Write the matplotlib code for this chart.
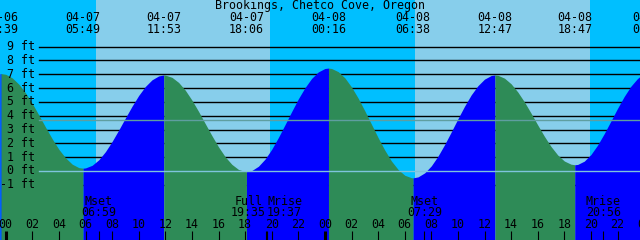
import matplotlib
matplotlib.use("Agg")
import matplotlib.pyplot as plt
import matplotlib.transforms as mtransforms
import numpy as np

title = "Brookings, Chetco Cove, Oregon"

# hours counted from 04-07 00:00
x_range = [-0.43, 47.69]
y_range = [-5.0, 12.38]

# tide height curve (hours, feet)
curve_hours = [-0.43, -0.35, 0, 0.5, 1, 1.5, 2, 2.5, 3, 3.5, 4, 4.5, 5, 5.5, 5.817,
               6, 6.5, 7, 7.5, 8, 8.5, 9, 9.5, 10, 10.5, 11, 11.5, 11.883,
               12, 12.5, 13, 13.5, 14, 14.5, 15, 15.5, 16, 16.5, 17, 17.5, 18, 18.1,
               18.5, 19, 19.5, 20, 20.5, 21, 21.5, 22, 22.5, 23, 23.5, 24, 24.267,
               24.5, 25, 25.5, 26, 26.5, 27, 27.5, 28, 28.5, 29, 29.5, 30, 30.5, 30.633,
               31, 31.5, 32, 32.5, 33, 33.5, 34, 34.5, 35, 35.5, 36, 36.5, 36.783,
               37, 37.5, 38, 38.5, 39, 39.5, 40, 40.5, 41, 41.5, 42, 42.5, 42.783,
               43, 43.5, 44, 44.5, 45, 45.5, 46, 46.5, 47, 47.5, 47.69]
curve_feet = [7.04, 7.05, 7.00, 6.73, 6.27, 5.64, 4.88, 4.03, 3.16, 2.32, 1.56, 0.95, 0.49, 0.24, 0.20,
              0.22, 0.41, 0.81, 1.40, 2.14, 2.97, 3.84, 4.69, 5.47, 6.12, 6.60, 6.88, 6.95,
              6.94, 6.78, 6.41, 5.85, 5.13, 4.31, 3.43, 2.56, 1.74, 1.03, 0.48, 0.11, -0.04, -0.05,
              0.03, 0.34, 0.86, 1.57, 2.42, 3.35, 4.30, 5.22, 6.03, 6.70, 7.17, 7.42, 7.45,
              7.42, 7.19, 6.74, 6.08, 5.27, 4.35, 3.38, 2.41, 1.51, 0.72, 0.11, -0.31, -0.49, -0.50,
              -0.43, -0.14, 0.37, 1.07, 1.91, 2.83, 3.78, 4.69, 5.51, 6.17, 6.65, 6.91, 6.95,
              6.93, 6.72, 6.31, 5.72, 5.00, 4.18, 3.33, 2.51, 1.77, 1.16, 0.72, 0.49, 0.45,
              0.47, 0.71, 1.19, 1.87, 2.70, 3.61, 4.53, 5.39, 6.13, 6.69, 6.84]

# high / low tide events
tide_hours = [-0.35, 5.817, 11.883, 18.1, 24.267, 30.633, 36.783, 42.783, 48.4]
tide_dates = ["04-06", "04-07", "04-07", "04-07", "04-08", "04-08", "04-08", "04-08", "04-09"]
tide_times = ["23:39", "05:49", "11:53", "18:06", "00:16", "06:38", "12:47", "18:47", "00:24"]

# daylight periods (sunrise, sunset)
day_start = [6.79, 30.77]
day_end = [19.87, 43.93]

# moon events
moon_hours = [6.983, 19.583, 19.617, 31.483, 44.933]
moon_names = ["Mset", "Full", "Mrise", "Mset", "Mrise"]
moon_times = ["06:59", "19:35", "19:37", "07:29", "20:56"]

# axis
ft_levels = [9, 8, 7, 6, 5, 4, 3, 2, 1, 0, -1]
ft_labels = ["9 ft", "8 ft", "7 ft", "6 ft", "5 ft", "4 ft", "3 ft", "2 ft", "1 ft", "0 ft", "-1 ft"]
hour_ticks = list(range(0, 49, 2))
hour_labels = ["%02d" % (h % 24) for h in hour_ticks]
mean_level = 3.69

NIGHT = "#00BFFF"
DAY = "#87CEEB"
FALL = "#2E8B57"
RISE = "#0000FF"
FONT = "DejaVu Sans Mono"
FS = 8.4

fig = plt.figure(figsize=(6.4, 2.4), dpi=100)
ax = fig.add_axes([0, 0, 1, 1])
ax.set_xlim(*x_range)
ax.set_ylim(*y_range)
ax.axis("off")

# sky
ax.axvspan(x_range[0] - 1, x_range[1] + 1, color=NIGHT, zorder=0, lw=0)
for s, e in zip(day_start, day_end):
    ax.axvspan(s, e, color=DAY, zorder=0.5, lw=0)

# grid lines (behind water)
for lv in ft_levels:
    if lv == 0:
        continue
    ax.axhline(lv, xmin=39 / 640, xmax=1, color="black", lw=1.0, zorder=1)

# water
t = np.array(curve_hours)
h = np.array(curve_feet)
bounds = [x_range[0]] + [b for b in tide_hours if x_range[0] < b < x_range[1]] + [x_range[1]]
for a, b in zip(bounds[:-1], bounds[1:]):
    m = (t >= a - 1e-9) & (t <= b + 1e-9)
    ts, hs = t[m], h[m]
    color = FALL if hs[-1] < hs[0] else RISE
    ax.fill_between(ts, hs, y_range[0] - 1, color=color, lw=0, zorder=2)

# datum and mean lines
ax.axhline(0, xmin=39 / 640, xmax=1, color="#7FC4DC", lw=1.0, zorder=3)
ax.axhline(mean_level, xmin=39 / 640, xmax=1, color="#5F9EA0", lw=1.0, zorder=3)

# y labels
ytr = mtransforms.blended_transform_factory(ax.transAxes, ax.transData)
for lv, lab in zip(ft_levels, ft_labels):
    ax.text(35 / 640, lv, lab, transform=ytr, ha="right", va="center",
            fontsize=FS, family=FONT, color="black", zorder=5)

xtr = mtransforms.blended_transform_factory(ax.transData, ax.transAxes)

# title and tide event labels
ax.text(0.5, 1 - 6 / 240, title, transform=ax.transAxes, ha="center", va="center",
        fontsize=FS, family=FONT, zorder=5)
for hr, d, tm in zip(tide_hours, tide_dates, tide_times):
    ax.text(hr, 1 - 17.3 / 240, d, transform=xtr, ha="center", va="center",
            fontsize=FS, family=FONT, zorder=5)
    ax.text(hr, 1 - 29.3 / 240, tm, transform=xtr, ha="center", va="center",
            fontsize=FS, family=FONT, zorder=5)

# moon labels
shifts = [0, -0.18, 0.18, 0, 0]
for hr, nm, tm, sh in zip(moon_hours, moon_names, moon_times, shifts):
    tr = xtr + mtransforms.ScaledTranslation(sh, 0, fig.dpi_scale_trans)
    ax.text(hr, 1 - 201.7 / 240, nm, transform=tr, ha="center", va="center",
            fontsize=FS, family=FONT, zorder=5)
    ax.text(hr, 1 - 213 / 240, tm, transform=tr, ha="center", va="center",
            fontsize=FS, family=FONT, zorder=5)

# hour labels and ticks
for hr, lab in zip(hour_ticks, hour_labels):
    ax.text(hr, 1 - 225 / 240, lab, transform=xtr, ha="center", va="center",
            fontsize=FS, family=FONT, zorder=5)
    thick = (hr % 24 == 0)
    ax.vlines(hr, 0, 9 / 240, transform=xtr, color="black",
              lw=2.2 if thick else 0.8, zorder=5)
ax.vlines(moon_hours, 0, 9 / 240, transform=xtr, color="black", lw=0.8, zorder=5)

fig.savefig("out.png", dpi=100)
